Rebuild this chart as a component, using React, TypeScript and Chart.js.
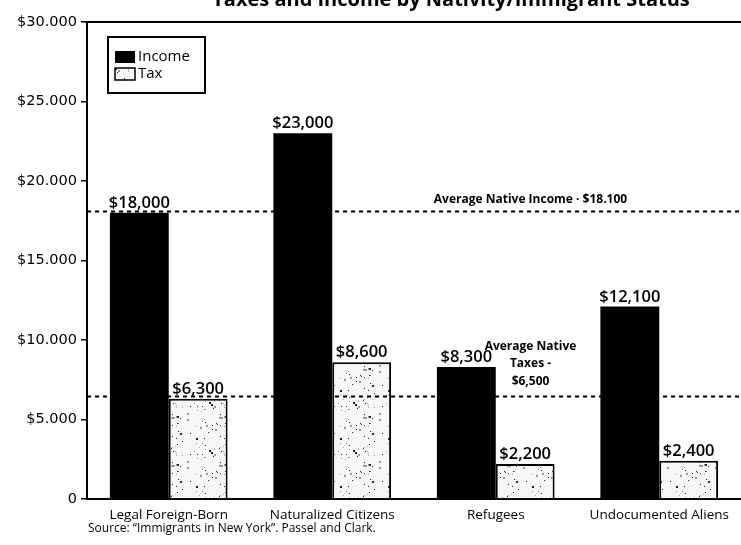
import React, { useEffect, useRef } from "react";
import { Chart, registerables } from "chart.js";

Chart.register(...registerables);

const categories = ["Legal Foreign-Born", "Naturalized Citizens", "Refugees", "Undocumented Aliens"];
const incomeValues = [18000, 23000, 8300, 12100];
const taxValues = [6300, 8600, 2200, 2400];
const avgNativeIncome = 18100;
const avgNativeTaxes = 6500;
const yTicks = [0, 5000, 10000, 15000, 20000, 25000, 30000];
const titleText = "Taxes and Income by Nativity/Immigrant Status";
const sourceText = "Source: \u201CImmigrants in New York\u201D. Passel and Clark.";

const FONT = "'Open Sans', 'DejaVu Sans', sans-serif";
const WIDE = "'DejaVu Sans', sans-serif";

function makeSpeckle(): CanvasPattern | string {
  const c = document.createElement("canvas");
  c.width = 48;
  c.height = 48;
  const g = c.getContext("2d");
  if (!g) return "#eeeeee";
  g.fillStyle = "#f7f7f7";
  g.fillRect(0, 0, 48, 48);
  let s = 12345;
  const rnd = () => {
    s = (s * 1103515245 + 12345) & 0x7fffffff;
    return s / 0x7fffffff;
  };
  for (let i = 0; i < 60; i++) {
    const x = Math.floor(rnd() * 48);
    const y = Math.floor(rnd() * 48);
    const sz = rnd() < 0.3 ? 2 : 1;
    g.fillStyle = rnd() < 0.5 ? "#222" : "#999";
    g.fillRect(x, y, sz, sz);
  }
  return g.createPattern(c, "repeat") || "#eeeeee";
}

const fmtBar = (v: number) => "$" + v.toLocaleString("en-US");

const overlayPlugin = {
  id: "overlay",
  afterDatasetsDraw(chart: any) {
    const { ctx, chartArea, scales } = chart;
    const ys = scales.y;
    const xs = scales.x;
    ctx.save();
    // top border line at max
    ctx.strokeStyle = "#000";
    ctx.lineWidth = 2;
    ctx.beginPath();
    ctx.moveTo(chartArea.left - 2, ys.getPixelForValue(30000));
    ctx.lineTo(chartArea.right, ys.getPixelForValue(30000));
    ctx.stroke();

    // bar value labels
    ctx.fillStyle = "#000";
    ctx.font = `600 16.5px ${FONT}`;
    ctx.textAlign = "center";
    ctx.textBaseline = "alphabetic";
    chart.data.datasets.forEach((ds: any, di: number) => {
      const meta = chart.getDatasetMeta(di);
      meta.data.forEach((el: any, i: number) => {
        ctx.fillText(fmtBar(ds.data[i]), el.x, el.y - 5);
      });
    });

    // average lines
    ctx.setLineDash([4, 4]);
    ctx.lineWidth = 2;
    [avgNativeIncome, avgNativeTaxes].forEach((v) => {
      const y = Math.round(ys.getPixelForValue(v)) + 0.5;
      ctx.beginPath();
      ctx.moveTo(chartArea.left, y);
      ctx.lineTo(chartArea.right, y);
      ctx.stroke();
    });
    ctx.setLineDash([]);

    // annotations
    ctx.font = `bold 12px ${FONT}`;
    ctx.textAlign = "center";
    const ax = (xs.getPixelForValue(2) + xs.getPixelForValue(3)) / 2 - 47;
    const yi = ys.getPixelForValue(avgNativeIncome);
    ctx.fillText("Average Native Income \u00B7 $" + "18.100", ax, yi - 8);
    const yt = ys.getPixelForValue(avgNativeTaxes);
    ctx.fillText("Average Native", ax, yt - 46);
    ctx.fillText("Taxes -", ax, yt - 29);
    ctx.fillText("$" + avgNativeTaxes.toLocaleString("en-US"), ax, yt - 11);

    // legend box
    const lx = chartArea.left + 21;
    const ly = chartArea.top + 15;
    ctx.lineWidth = 2;
    ctx.strokeRect(lx, ly, 97, 56);
    ctx.font = `15px ${FONT}`;
    ctx.textAlign = "left";
    ctx.textBaseline = "middle";
    chart.data.datasets.forEach((ds: any, di: number) => {
      const ry = ly + 20 + di * 17;
      if (di === 0) {
        ctx.fillStyle = "#000";
        ctx.fillRect(lx + 7, ry - 6, 20, 12);
      } else {
        ctx.fillStyle = ds.backgroundColor;
        ctx.fillRect(lx + 7, ry - 6, 20, 12);
        ctx.lineWidth = 1.5;
        ctx.strokeRect(lx + 7, ry - 6, 20, 12);
      }
      ctx.fillStyle = "#000";
      ctx.fillText(ds.label, lx + 30, ry);
    });

    // title (clipped at top) and source
    ctx.textAlign = "center";
    ctx.textBaseline = "alphabetic";
    ctx.font = `bold 20px ${FONT}`;
    ctx.fillText(titleText, 451, 6);
    ctx.textAlign = "left";
    ctx.font = `12px ${FONT}`;
    ctx.fillText(sourceText, chartArea.left + 1, 532);
    ctx.restore();
  },
};

export default function App() {
  const ref = useRef<HTMLCanvasElement>(null);
  useEffect(() => {
    if (!ref.current) return;
    const speckle = makeSpeckle();
    const chart = new Chart(ref.current, {
      type: "bar",
      data: {
        labels: categories,
        datasets: [
          {
            label: "Income",
            data: incomeValues,
            backgroundColor: "#000",
            borderColor: "#000",
            borderWidth: 0,
          },
          {
            label: "Tax",
            data: taxValues,
            backgroundColor: speckle as any,
            borderColor: "#000",
            borderWidth: 2,
          },
        ],
      },
      options: {
        responsive: false,
        animation: false,
        events: [],
        layout: { padding: { top: 22, right: 0, left: 0, bottom: 0 } },
        datasets: { bar: { categoryPercentage: 0.72, barPercentage: 1.0 } },
        plugins: {
          legend: { display: false },
          title: { display: false },
          tooltip: { enabled: false },
        },
        scales: {
          x: {
            grid: { display: false },
            border: { display: true, color: "#000", width: 2 },
            ticks: { color: "#000", font: { family: FONT, size: 13.5 }, padding: 0, maxRotation: 0, autoSkip: false },
            afterFit: (s: any) => {
              s.height = 46;
            },
          },
          y: {
            min: 0,
            max: 30000,
            afterBuildTicks: (s: any) => {
              s.ticks = yTicks.map((v) => ({ value: v }));
            },
            grid: { display: true, drawOnChartArea: false, tickLength: 6, color: "#000", lineWidth: 1.5 },
            border: { display: true, color: "#000", width: 2 },
            ticks: {
              color: "#000",
              font: { family: WIDE, size: 14.5 },
              padding: 4,
              callback: (v: any) => (v === 0 ? "0" : "$" + v / 1000 + ".000"),
            },
            afterFit: (s: any) => {
              s.width = 87;
            },
          },
        },
      },
      plugins: [overlayPlugin],
    });
    return () => chart.destroy();
  }, []);
  return (
    <div style={{ position: "absolute", left: 0, top: 0, width: 741, height: 545, background: "#fff" }}>
      <canvas ref={ref} width={741} height={545} />
    </div>
  );
}
